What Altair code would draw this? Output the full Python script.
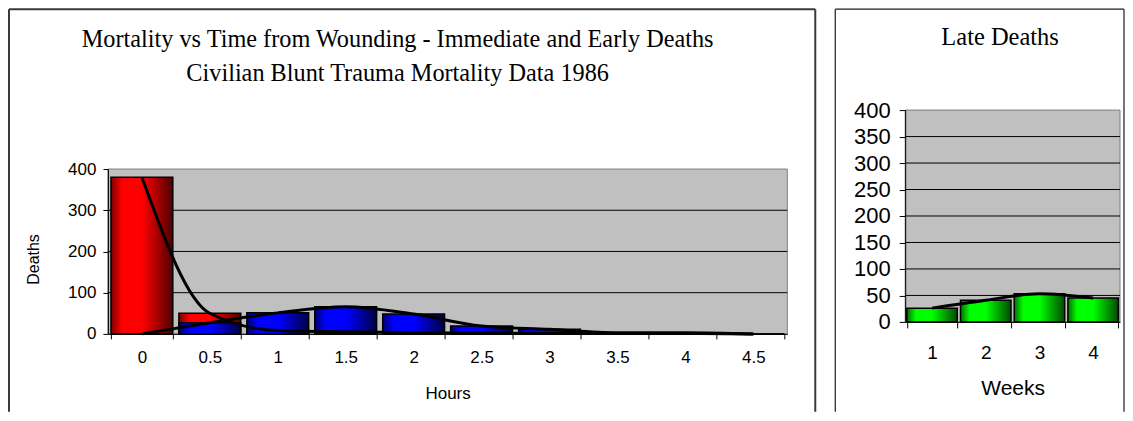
import altair as alt
import pandas as pd

# ---------------- data ----------------
hours = ["0", "0.5", "1", "1.5", "2", "2.5", "3", "3.5", "4", "4.5"]
immediate = [380, 50, 8, 5, 3, 2, 1, 1, 1, 0]
early = [0, 27, 51, 66, 48, 19, 11, 3, 3, 0]

weeks = ["1", "2", "3", "4"]
late = [26, 41, 53, 45]

title_left = ["Mortality vs Time from Wounding - Immediate and Early Deaths",
              "Civilian Blunt Trauma Mortality Data 1986"]
title_right = "Late Deaths"
y_ticks_left = [0, 100, 200, 300, 400]
grid_left = [100, 200, 300]
y_ticks_right = [0, 50, 100, 150, 200, 250, 300, 350, 400]
grid_right = [50, 100, 150, 200, 250, 300, 350]
y_max = 400

left_df = pd.DataFrame({"hour": hours, "immediate": immediate, "early": early})
right_df = pd.DataFrame({"week": weeks, "late": late})
one = pd.DataFrame({"k": [0]})

SANS = "Liberation Sans"
SERIF = "Liberation Serif"


def grad(c_left, c_bright, c_right, pos=0.45):
    return alt.Gradient(
        gradient="linear", x1=0, y1=0, x2=1, y2=0,
        stops=[alt.GradientStop(offset=0, color=c_left),
               alt.GradientStop(offset=0.18, color=c_bright),
               alt.GradientStop(offset=pos, color=c_bright),
               alt.GradientStop(offset=1, color=c_right)])


red_grad = grad("#7a0000", "#ff0000", "#500000", 0.5)
blue_grad = grad("#000070", "#0000ff", "#000045", 0.5)
green_grad = grad("#007000", "#00ff00", "#004a00", 0.5)


def frame(x0, x1, y0, y1, color, width):
    """Three-sided panel border (the bottom runs to the page edge)."""
    sides = []
    for enc in (dict(x=alt.value(x0), y=alt.value(y0), y2=alt.value(y1)),
                dict(x=alt.value(x0), x2=alt.value(x1), y=alt.value(y0)),
                dict(x=alt.value(x1), y=alt.value(y0), y2=alt.value(y1))):
        sides.append(alt.Chart(one).mark_rule(color=color, strokeWidth=width).encode(**enc))
    return sides


# ---------------- left panel ----------------
LW, LH = 680, 224          # view spans from the right panel's plot top to the x axis
L_TOP = 59                 # pixel offset of the value 400 inside the left view
xL = alt.X("hour:N", sort=hours,
           scale=alt.Scale(paddingInner=0.09, paddingOuter=0.045),
           axis=alt.Axis(title="Hours", labelAngle=0, tickBand="extent", tickSize=5,
                         tickColor="black", domainColor="black", labelColor="black",
                         labelFont=SANS, labelFontSize=17, labelPadding=11,
                         titleFont=SANS, titleFontSize=17, titleFontWeight="normal",
                         titleColor="black", titleY=60, titleBaseline="middle", grid=False,
                         zindex=1))
yaxL = alt.Axis(values=y_ticks_left, title="Deaths", grid=False,
                domainColor="black", tickColor="black", tickSize=5,
                labelFont=SANS, labelFontSize=17, labelColor="black", labelPadding=7,
                titleFont=SANS, titleFontSize=16, titleFontWeight="normal", titleColor="black",
                titleX=-74, titleY=149, titleAngle=270, titleAlign="center",
                titleBaseline="middle", zindex=1)
scL = alt.Scale(domain=[0, y_max], range=[LH, L_TOP])

baseL = alt.Chart(left_df)
frameL = frame(-99, 708, -101, 302, "#3a3a3a", 2)
bgL = alt.Chart(one).mark_rect(fill="#C0C0C0", stroke="#808080", strokeWidth=1).encode(
    x=alt.value(0), x2=alt.value(LW),
    y=alt.YDatum(y_max, scale=scL, axis=yaxL), y2=alt.Y2Datum(0))
gridL = alt.Chart(pd.DataFrame({"v": grid_left})).mark_rule(color="black", strokeWidth=1).encode(
    y=alt.Y("v:Q", scale=scL, axis=yaxL), x=alt.value(0), x2=alt.value(LW))
red_bars = baseL.mark_bar(color=red_grad, stroke="black", strokeWidth=1.5).encode(
    x=xL, y=alt.Y("immediate:Q", scale=scL, axis=yaxL))
blue_bars = baseL.mark_bar(color=blue_grad, stroke="black", strokeWidth=1.5).encode(
    x=xL, y=alt.Y("early:Q", scale=scL, axis=yaxL))
line_imm = baseL.mark_line(color="black", strokeWidth=3, interpolate="monotone").encode(
    x=xL, y=alt.Y("immediate:Q", scale=scL, axis=yaxL))
line_early = baseL.mark_line(color="black", strokeWidth=3, interpolate="monotone").encode(
    x=xL, y=alt.Y("early:Q", scale=scL, axis=yaxL))
titleL = alt.Chart(one).mark_text(text=title_left, font=SERIF, fontSize=24.3, lineHeight=34,
                                  align="center", baseline="alphabetic", color="black").encode(
    x=alt.value(290), y=alt.value(-63))

left = alt.layer(*frameL, bgL, gridL, red_bars, blue_bars, line_imm, line_early,
                 titleL).properties(width=LW, height=LH)

# ---------------- right panel ----------------
RW, RH = 215, 212
xR = alt.X("week:N", sort=weeks,
           scale=alt.Scale(paddingInner=0.06, paddingOuter=0.03),
           axis=alt.Axis(title="Weeks", labelAngle=0, tickBand="extent", tickSize=6,
                         tickColor="black", domainColor="black", labelColor="black",
                         labelFont=SANS, labelFontSize=19, labelPadding=16,
                         titleFont=SANS, titleFontSize=21, titleFontWeight="normal",
                         titleColor="black", titleY=67, titleBaseline="middle", grid=False,
                         zindex=1))
yaxR = alt.Axis(values=y_ticks_right, title=None, grid=False,
                domainColor="black", tickColor="black", tickSize=6,
                labelFont=SANS, labelFontSize=22, labelColor="black", labelPadding=9, zindex=1)
scR = alt.Scale(domain=[0, y_max])

baseR = alt.Chart(right_df)
frameR = frame(-70, 219, -101, 302, "#1a1a1a", 1.2)
bgR = alt.Chart(one).mark_rect(fill="#C0C0C0", stroke="#808080", strokeWidth=1).encode(
    x=alt.value(0), x2=alt.value(RW),
    y=alt.YDatum(y_max, scale=scR, axis=yaxR), y2=alt.Y2Datum(0))
gridR = alt.Chart(pd.DataFrame({"v": grid_right})).mark_rule(color="black", strokeWidth=1).encode(
    y=alt.Y("v:Q", scale=scR, axis=yaxR), x=alt.value(0), x2=alt.value(RW))
green_bars = baseR.mark_bar(color=green_grad, stroke="black", strokeWidth=1.5).encode(
    x=xR, y=alt.Y("late:Q", scale=scR, axis=yaxR))
line_late = baseR.mark_line(color="black", strokeWidth=3, interpolate="monotone").encode(
    x=xR, y=alt.Y("late:Q", scale=scR, axis=yaxR))
titleR = alt.Chart(one).mark_text(text=title_right, font=SERIF, fontSize=24.5,
                                  align="center", baseline="alphabetic", color="black").encode(
    x=alt.value(95), y=alt.value(-65))

right = alt.layer(*frameR, bgR, gridR, green_bars, line_late, titleR).properties(
    width=RW, height=RH)

chart = alt.hconcat(left, right, spacing=18).properties(
    padding=0, background="white"
).configure_view(fill="transparent", stroke="transparent", strokeWidth=0)

chart.save("out.html", embed_options={"renderer": "svg", "actions": False})
